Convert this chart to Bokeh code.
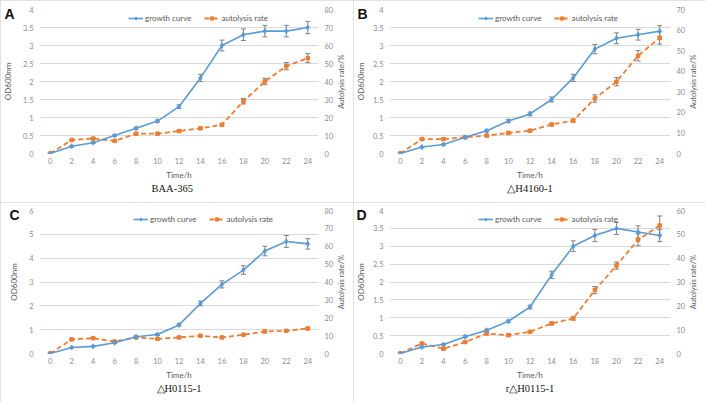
import math
from bokeh.plotting import figure
from bokeh.models import (Range1d, LinearAxis, FixedTicker, CustomJSTickFormatter, Whisker,
                          TeeHead, ColumnDataSource, Legend, LegendItem, Title, InlineStyleSheet)
from bokeh.layouts import gridplot
from bokeh.embed import file_html
from bokeh.resources import INLINE

# ---------------- data ----------------
time_h = [0, 2, 4, 6, 8, 10, 12, 14, 16, 18, 20, 22, 24]

a_growth = [0, 0.2, 0.3, 0.5, 0.7, 0.9, 1.3, 2.1, 3.0, 3.3, 3.4, 3.4, 3.5]
a_growth_err = [0.02, 0.02, 0.02, 0.02, 0.03, 0.03, 0.05, 0.1, 0.15, 0.16, 0.16, 0.16, 0.17]
a_auto = [0, 7.5, 8.3, 7, 11, 11, 12.5, 14, 16, 29, 40, 48.5, 53]
a_auto_err = [0.3, 0.4, 0.4, 0.4, 0.5, 0.5, 0.5, 0.6, 0.7, 1.5, 1.8, 2, 2.5]

b_growth = [0, 0.18, 0.25, 0.45, 0.63, 0.9, 1.1, 1.5, 2.1, 2.9, 3.2, 3.3, 3.4]
b_growth_err = [0.02, 0.02, 0.02, 0.03, 0.03, 0.04, 0.05, 0.07, 0.1, 0.13, 0.15, 0.15, 0.15]
b_auto = [0, 7, 7, 7.9, 8.7, 10, 11.1, 14.1, 16, 26.7, 34.9, 47.5, 56.2]
b_auto_err = [0.3, 0.4, 0.4, 0.4, 0.5, 0.5, 0.5, 0.6, 0.7, 1.8, 2, 2.5, 3]

c_growth = [0, 0.25, 0.3, 0.45, 0.7, 0.8, 1.2, 2.1, 2.9, 3.5, 4.3, 4.7, 4.6]
c_growth_err = [0.02, 0.02, 0.02, 0.03, 0.03, 0.04, 0.05, 0.1, 0.15, 0.18, 0.2, 0.25, 0.22]
c_auto = [0, 7.9, 8.6, 6.7, 9, 8.2, 9, 9.9, 9, 10.5, 12.3, 12.7, 14]
c_auto_err = [0.2, 0.3, 0.3, 0.3, 0.3, 0.3, 0.3, 0.3, 0.3, 0.4, 0.4, 0.4, 0.5]

d_growth = [0, 0.18, 0.25, 0.47, 0.65, 0.9, 1.3, 2.2, 3.0, 3.3, 3.5, 3.4, 3.3]
d_growth_err = [0.02, 0.02, 0.02, 0.03, 0.03, 0.03, 0.05, 0.1, 0.15, 0.17, 0.17, 0.17, 0.17]
d_auto = [0, 4.2, 2, 4.8, 8.4, 7.7, 9.1, 12.6, 14.7, 26.6, 36.9, 47.7, 53.7]
d_auto_err = [0.3, 0.4, 0.4, 0.4, 0.5, 0.5, 0.5, 0.6, 0.7, 1.5, 1.5, 2.5, 4]

panel_letters = ["A", "B", "C", "D"]
strain_names = ["BAA-365", "△H4160-1", "△H0115-1", "r△H0115-1"]
left_ticks_list = [[0, 0.5, 1, 1.5, 2, 2.5, 3, 3.5, 4],
                   [0, 0.5, 1, 1.5, 2, 2.5, 3, 3.5, 4],
                   [0, 1, 2, 3, 4, 5, 6],
                   [0, 0.5, 1, 1.5, 2, 2.5, 3, 3.5, 4]]
right_ticks_list = [[0, 10, 20, 30, 40, 50, 60, 70, 80],
                    [0, 10, 20, 30, 40, 50, 60, 70],
                    [0, 10, 20, 30, 40, 50, 60, 70, 80],
                    [0, 10, 20, 30, 40, 50, 60]]
x_ticks = [0, 2, 4, 6, 8, 10, 12, 14, 16, 18, 20, 22, 24]
series_label_growth = "growth curve"
series_label_auto = "autolysis rate"
x_title = "Time/h"
y_title = "OD600nm"
y2_title = "Autolysis rate/%"

# ---------------- style / layout ----------------
BLUE = "#5b9bd5"
ORANGE = "#ed7d31"
GRID = "#d9d9d9"
TICKC = "#8c8c8c"
TITLEC = "#595959"
ERRC = "#808080"
FONT = "Lato"

panel_w = [353, 352, 353, 352]
panel_h = [202, 202, 200, 200]
frame_top = [9, 9, 8, 8]
frame_h = [144, 144, 143, 143]
frame_left = [38, 35, 32, 35]
frame_w = [284, 285, 289, 285]
letter_standoff = [6, 3, 7, 4]
od_standoff = [-12, -12, -13, -13]
legend_x = [89, 89, 94, 89]
LETTER_FROM_TOP = 4
RTITLE_FROM_BOTTOM = 0.31

border_css = InlineStyleSheet(css=":host { outline: 1px solid #d9d9d9; outline-offset: -1px; }")


def style_axis(ax):
    ax.axis_line_color = None
    ax.major_tick_line_color = None
    ax.minor_tick_line_color = None
    ax.major_tick_out = 0
    ax.major_tick_in = 0
    ax.major_label_text_color = TICKC
    ax.major_label_text_font = FONT
    ax.major_label_text_font_size = "7.5px"
    ax.axis_label_text_font = FONT
    ax.axis_label_text_font_size = "8px"
    ax.axis_label_text_font_style = "normal"
    ax.axis_label_text_color = TITLEC


def make_panel(i, growth, gerr, auto, aerr):
    lt = left_ticks_list[i]
    rt = right_ticks_list[i]
    W, H = panel_w[i], panel_h[i]
    fl, fw, ft, fh = frame_left[i], frame_w[i], frame_top[i], frame_h[i]
    p = figure(width=W, height=H, x_range=Range1d(-1, 25), y_range=Range1d(lt[0], lt[-1]),
               output_backend="svg", toolbar_location=None,
               min_border_left=fl, min_border_right=W - fl - fw,
               min_border_top=ft, min_border_bottom=H - ft - fh)
    p.stylesheets = [border_css]
    p.outline_line_color = None
    p.background_fill_color = "white"
    p.border_fill_color = "white"
    p.title.text = ""
    p.extra_y_ranges = {"r": Range1d(rt[0], rt[-1])}

    src = ColumnDataSource(dict(
        x=time_h, g=growth, gu=[v + e for v, e in zip(growth, gerr)], gl=[v - e for v, e in zip(growth, gerr)],
        a=auto, au=[v + e for v, e in zip(auto, aerr)], al=[v - e for v, e in zip(auto, aerr)]))

    xa = p.xaxis[0]
    ya = p.yaxis[0]
    style_axis(xa)
    style_axis(ya)
    xa.ticker = FixedTicker(ticks=x_ticks)
    xa.major_label_standoff = 4
    xa.axis_label = x_title
    xa.axis_label_standoff = 3

    ya.ticker = FixedTicker(ticks=lt)
    ya.formatter = CustomJSTickFormatter(code="return String(Math.round(tick*100)/100);")
    ya.major_label_standoff = 6

    # outer left axis: its single tick label is the panel letter, its label the OD title
    span = lt[-1] - lt[0]
    v_letter = lt[-1] - LETTER_FROM_TOP / fh * span
    ya2 = LinearAxis(ticker=FixedTicker(ticks=[v_letter], minor_ticks=[]),
                     formatter=CustomJSTickFormatter(args=dict(t=panel_letters[i]), code="return t;"))
    style_axis(ya2)
    ya2.major_label_text_font = "Liberation Sans"
    ya2.major_label_text_font_style = "bold"
    ya2.major_label_text_font_size = "14px"
    ya2.major_label_text_color = "#111111"
    ya2.major_label_standoff = letter_standoff[i]
    ya2.axis_label = y_title
    ya2.axis_label_standoff = od_standoff[i]
    p.add_layout(ya2, "left")

    # right axis with the autolysis scale
    ry = LinearAxis(y_range_name="r", ticker=FixedTicker(ticks=rt))
    style_axis(ry)
    ry.major_label_standoff = 6
    p.add_layout(ry, "right")

    # outer right axis: its single rotated tick label is the right-hand title
    rspan = rt[-1] - rt[0]
    v_rt = rt[0] + RTITLE_FROM_BOTTOM * rspan
    ry2 = LinearAxis(y_range_name="r", ticker=FixedTicker(ticks=[v_rt], minor_ticks=[]),
                     formatter=CustomJSTickFormatter(args=dict(t=y2_title), code="return t;"))
    style_axis(ry2)
    ry2.major_label_orientation = math.pi / 2
    ry2.major_label_text_font_size = "7.5px"
    ry2.major_label_text_color = TITLEC
    ry2.major_label_standoff = 5
    p.add_layout(ry2, "right")

    p.xgrid.visible = False
    p.ygrid.ticker = FixedTicker(ticks=lt)
    p.ygrid.grid_line_color = GRID
    p.ygrid.grid_line_width = 1

    la = p.line("x", "a", source=src, y_range_name="r", color=ORANGE, line_width=1.8, line_dash="5 3")
    ma = p.scatter("x", "a", source=src, y_range_name="r", marker="square", size=3.5,
                   fill_color=ORANGE, line_color=ORANGE)
    lg = p.line("x", "g", source=src, color=BLUE, line_width=1.6)
    mg = p.scatter("x", "g", source=src, marker="diamond", size=5, fill_color=BLUE, line_color=BLUE)

    wg = Whisker(source=src, base="x", upper="gu", lower="gl", line_color=ERRC, line_width=1,
                 upper_head=TeeHead(size=5, line_color=ERRC, line_width=1),
                 lower_head=TeeHead(size=5, line_color=ERRC, line_width=1))
    wa = Whisker(source=src, base="x", upper="au", lower="al", y_range_name="r", line_color=ERRC, line_width=1,
                 upper_head=TeeHead(size=5, line_color=ERRC, line_width=1),
                 lower_head=TeeHead(size=5, line_color=ERRC, line_width=1))
    p.add_layout(wg)
    p.add_layout(wa)

    legend = Legend(items=[LegendItem(label=series_label_growth, renderers=[lg, mg]),
                           LegendItem(label=series_label_auto, renderers=[la, ma])],
                    orientation="horizontal", location=(legend_x[i], fh - 14),
                    background_fill_alpha=0, border_line_color=None,
                    padding=0, margin=0, spacing=13, glyph_width=15, glyph_height=8,
                    label_standoff=2, label_height=10,
                    label_text_font=FONT, label_text_font_size="8px", label_text_color=TITLEC)
    p.add_layout(legend)

    # strain subtitle below
    if i == 0:
        sub = Title(text=strain_names[i], align="left", offset=112, vertical_align="top",
                    standoff=0, text_font="Liberation Serif", text_font_style="normal",
                    text_font_size="10.5px", text_color="#111111")
    else:
        sub = Title(text=strain_names[i], align="center", vertical_align="top",
                    standoff=0, text_font="Liberation Serif", text_font_style="normal",
                    text_font_size="10.5px", text_color="#111111")
    p.add_layout(sub, "below")
    return p


pa = make_panel(0, a_growth, a_growth_err, a_auto, a_auto_err)
pb = make_panel(1, b_growth, b_growth_err, b_auto, b_auto_err)
pc = make_panel(2, c_growth, c_growth_err, c_auto, c_auto_err)
pd = make_panel(3, d_growth, d_growth_err, d_auto, d_auto_err)

grid = gridplot([[pa, pb], [pc, pd]], toolbar_location=None)

open("out.html", "w").write(file_html(grid, INLINE))
